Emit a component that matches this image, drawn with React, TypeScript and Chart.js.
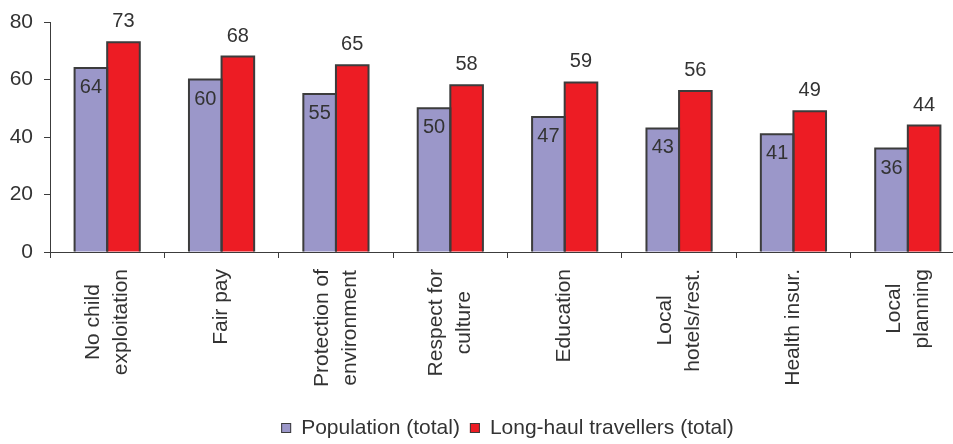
import React, { useEffect, useRef } from "react";
import { Chart, registerables } from "chart.js";

Chart.register(...registerables);

// Categories (multi-line labels)
const categories: string[][] = [
  ["No child", "exploitation"],
  ["Fair pay"],
  ["Protection of", "environment"],
  ["Respect for", "culture"],
  ["Education"],
  ["Local", "hotels/rest."],
  ["Health insur."],
  ["Local", "planning"],
];

const populationTotal = [64, 60, 55, 50, 47, 43, 41, 36];
const longHaulTotal = [73, 68, 65, 58, 59, 56, 49, 44];

const yTicks = [0, 20, 40, 60, 80];

const seriesNames = ["Population (total)", "Long-haul travellers (total)"];

const FONT = '"Liberation Sans", Arial, Helvetica, sans-serif';
const TEXT = "#333333";
const EDGE = "#3c3c3c";
const PURPLE = "#9b97c9";
const RED = "#ed1c24";

// Outlines each bar (top, left, right) with a line centred on its edges
const outlinePlugin = {
  id: "outlinePlugin",
  afterDatasetsDraw(chart: any) {
    const ctx: CanvasRenderingContext2D = chart.ctx;
    ctx.save();
    ctx.strokeStyle = EDGE;
    ctx.lineWidth = 2;
    ctx.lineJoin = "miter";
    chart.data.datasets.forEach((_ds: any, di: number) => {
      const meta = chart.getDatasetMeta(di);
      meta.data.forEach((bar: any) => {
        const { x, y, base, width } = bar.getProps(["x", "y", "base", "width"], true);
        const l = x - width / 2;
        const r = x + width / 2;
        ctx.beginPath();
        ctx.moveTo(l, base);
        ctx.lineTo(l, y);
        ctx.lineTo(r, y);
        ctx.lineTo(r, base);
        ctx.stroke();
      });
    });
    ctx.restore();
  },
};

const labelsPlugin = {
  id: "labelsPlugin",
  afterDatasetsDraw(chart: any) {
    const ctx: CanvasRenderingContext2D = chart.ctx;
    ctx.save();
    ctx.fillStyle = TEXT;

    // value labels: inside the top of the first series, above the second
    ctx.font = `20px ${FONT}`;
    ctx.textAlign = "center";
    ctx.textBaseline = "alphabetic";
    chart.data.datasets.forEach((ds: any, di: number) => {
      const meta = chart.getDatasetMeta(di);
      meta.data.forEach((bar: any, i: number) => {
        const v = ds.data[i];
        const y = di === 0 ? bar.y + 25 : bar.y - 15;
        ctx.fillText(String(v), bar.x, y);
      });
    });

    // rotated category labels, lines centred on each other
    const xs = chart.scales.x;
    ctx.font = `21px ${FONT}`;
    const lineGap = 28;
    (chart.data.labels as string[][]).forEach((lab, i) => {
      const lines = Array.isArray(lab) ? lab : [lab];
      const cx = xs.getPixelForValue(i);
      const w = Math.max(...lines.map((l) => ctx.measureText(l).width));
      const cy = xs.top + 17 + w / 2;
      ctx.save();
      ctx.translate(cx, cy);
      ctx.rotate(-Math.PI / 2);
      ctx.textAlign = "center";
      ctx.textBaseline = "middle";
      lines.forEach((l, j) => {
        ctx.fillText(l, 0, (j - (lines.length - 1) / 2) * lineGap);
      });
      ctx.restore();
    });

    // legend centred under the plot area
    ctx.font = `21px ${FONT}`;
    ctx.textAlign = "left";
    ctx.textBaseline = "middle";
    const box = 10;
    const gap = 10;
    const colors = [PURPLE, RED];
    const widths = seriesNames.map((n) => ctx.measureText(n).width);
    const total =
      widths.reduce((a, b) => a + b, 0) + seriesNames.length * (box + gap) + gap * (seriesNames.length - 1);
    const area = chart.chartArea;
    let x = (area.left + area.right) / 2 - total / 2;
    const cyL = 428;
    seriesNames.forEach((n, k) => {
      ctx.fillStyle = colors[k];
      ctx.fillRect(x, cyL - box / 2, box, box);
      ctx.strokeStyle = EDGE;
      ctx.lineWidth = 1;
      ctx.strokeRect(x + 0.5, cyL - box / 2 + 0.5, box - 1, box - 1);
      ctx.fillStyle = TEXT;
      ctx.fillText(n, x + box + gap, cyL);
      x += box + gap + widths[k] + gap;
    });

    ctx.restore();
  },
};

export default function App() {
  const canvasRef = useRef<HTMLCanvasElement | null>(null);

  useEffect(() => {
    const canvas = canvasRef.current;
    if (!canvas) return;
    const chart = new Chart(canvas, {
      type: "bar",
      data: {
        labels: categories as any,
        datasets: [
          {
            label: seriesNames[0],
            data: populationTotal,
            backgroundColor: PURPLE,
            borderWidth: 0,
            categoryPercentage: 0.57,
            barPercentage: 1.0,
          },
          {
            label: seriesNames[1],
            data: longHaulTotal,
            backgroundColor: RED,
            borderWidth: 0,
            categoryPercentage: 0.57,
            barPercentage: 1.0,
          },
        ],
      },
      options: {
        animation: false,
        responsive: false,
        events: [],
        layout: { padding: { top: 22, left: 0, right: 0, bottom: 0 } },
        plugins: {
          legend: { display: false },
          tooltip: { enabled: false },
          title: { display: false },
        },
        scales: {
          x: {
            grid: {
              display: true,
              drawOnChartArea: false,
              drawTicks: true,
              tickLength: 6,
              color: EDGE,
              offset: true,
            },
            border: { display: true, color: EDGE, width: 1 },
            ticks: { display: false },
            afterFit(scale: any) {
              scale.height = 192;
              scale.paddingLeft = 0;
              scale.paddingRight = 0;
            },
          },
          y: {
            min: 0,
            max: 80,
            afterBuildTicks(scale: any) {
              scale.ticks = yTicks.map((v) => ({ value: v }));
            },
            grid: {
              display: true,
              drawOnChartArea: false,
              drawTicks: true,
              tickLength: 6,
              color: EDGE,
            },
            border: { display: true, color: EDGE, width: 1 },
            ticks: {
              color: TEXT,
              padding: 11,
              font: { family: FONT, size: 21 },
            },
            afterFit(scale: any) {
              scale.width = 50;
              scale.paddingTop = 0;
              scale.paddingBottom = 0;
            },
          },
        },
      },
      plugins: [outlinePlugin, labelsPlugin],
    });
    return () => chart.destroy();
  }, []);

  return (
    <div
      style={{
        position: "fixed",
        left: 0,
        top: 0,
        width: 953,
        height: 444,
        overflow: "hidden",
        background: "#ffffff",
      }}
    >
      <canvas ref={canvasRef} width={965} height={444} style={{ display: "block" }} />
    </div>
  );
}
